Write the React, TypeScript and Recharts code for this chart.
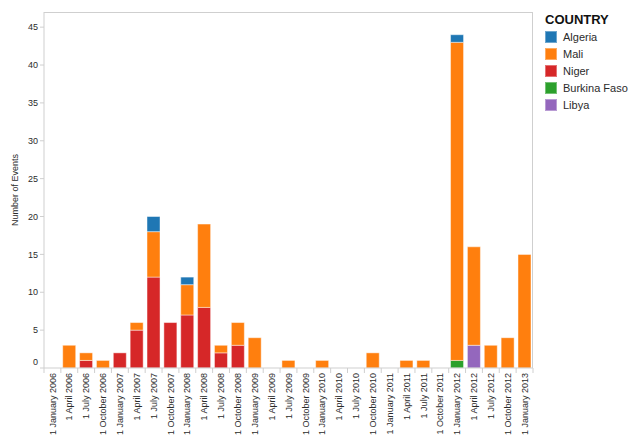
import { BarChart, Bar, XAxis, YAxis } from 'recharts';

const QUARTERS = [
  '1 January 2006', '1 April 2006', '1 July 2006', '1 October 2006',
  '1 January 2007', '1 April 2007', '1 July 2007', '1 October 2007',
  '1 January 2008', '1 April 2008', '1 July 2008', '1 October 2008',
  '1 January 2009', '1 April 2009', '1 July 2009', '1 October 2009',
  '1 January 2010', '1 April 2010', '1 July 2010', '1 October 2010',
  '1 January 2011', '1 April 2011', '1 July 2011', '1 October 2011',
  '1 January 2012', '1 April 2012', '1 July 2012', '1 October 2012',
  '1 January 2013',
];

const LIBYA = [0, 0, 0, 0, 0, 0, 0, 0, 0, 0, 0, 0, 0, 0, 0, 0, 0, 0, 0, 0, 0, 0, 0, 0, 0, 3, 0, 0, 0];
const BURKINA = [0, 0, 0, 0, 0, 0, 0, 0, 0, 0, 0, 0, 0, 0, 0, 0, 0, 0, 0, 0, 0, 0, 0, 0, 1, 0, 0, 0, 0];
const NIGER = [0, 0, 1, 0, 2, 5, 12, 6, 7, 8, 2, 3, 0, 0, 0, 0, 0, 0, 0, 0, 0, 0, 0, 0, 0, 0, 0, 0, 0];
const MALI = [0, 3, 1, 1, 0, 1, 6, 0, 4, 11, 1, 3, 4, 0, 1, 0, 1, 0, 0, 2, 0, 1, 1, 0, 42, 13, 3, 4, 15];
const ALGERIA = [0, 0, 0, 0, 0, 0, 2, 0, 1, 0, 0, 0, 0, 0, 0, 0, 0, 0, 0, 0, 0, 0, 0, 0, 1, 0, 0, 0, 0];

const Y_TICKS = [0, 5, 10, 15, 20, 25, 30, 35, 40, 45];

// legend order (top to bottom), stacking is the reverse
const LEGEND = [
  { key: 'Algeria', color: '#1f77b4' },
  { key: 'Mali', color: '#ff7f0e' },
  { key: 'Niger', color: '#d62728' },
  { key: 'Burkina Faso', color: '#2ca02c' },
  { key: 'Libya', color: '#9467bd' },
];

const data = QUARTERS.map((q, i) => ({
  quarter: q,
  Libya: LIBYA[i],
  'Burkina Faso': BURKINA[i],
  Niger: NIGER[i],
  Mali: MALI[i],
  Algeria: ALGERIA[i],
}));

const FONT = '"Liberation Sans", Arial, sans-serif';
const AXIS_GREY = '#cfcfcf';
const TEXT = '#2b2b2b';

const W = 640;
const H = 447;
const LEFT = 44;
const TOP = 12;
const RIGHT = 533;
const BOTTOM = 368;
const BAND = (RIGHT - LEFT) / QUARTERS.length;

function XTick(props: any) {
  const { x, payload, index } = props;
  const last = index === QUARTERS.length - 1;
  return (
    <g>
      <line x1={x - BAND / 2} x2={x - BAND / 2} y1={BOTTOM} y2={BOTTOM + 5} stroke={AXIS_GREY} />
      {last && <line x1={x + BAND / 2} x2={x + BAND / 2} y1={BOTTOM} y2={BOTTOM + 5} stroke={AXIS_GREY} />}
      <text
        x={x}
        y={BOTTOM + 5}
        transform={`rotate(-90 ${x} ${BOTTOM + 5})`}
        textAnchor="end"
        dy="0.35em"
        fontSize={9}
        fontFamily={FONT}
        fill={TEXT}
      >
        {payload.value}
      </text>
    </g>
  );
}

function YTick(props: any) {
  const { x, y, payload } = props;
  const nudge = payload.value === 0 ? -6 : 0;
  return (
    <text x={x} y={y + nudge} dy="0.35em" textAnchor="end" fontSize={9} fontFamily={FONT} fill={TEXT}>
      {payload.value}
    </text>
  );
}

export default function App() {
  const stack = [...LEGEND].reverse();
  return (
    <div style={{ position: 'absolute', left: 0, top: 0, width: W, height: H, fontFamily: FONT, background: '#fff' }}>
      <BarChart
        width={W}
        height={H}
        data={data}
        margin={{ top: TOP, right: W - RIGHT, bottom: 0, left: 0 }}
        barCategoryGap="11%"
      >
        <XAxis
          dataKey="quarter"
          interval={0}
          height={H - BOTTOM}
          tick={<XTick />}
          tickLine={false}
          axisLine={{ stroke: AXIS_GREY }}
        />
        <YAxis
          width={LEFT}
          domain={[0, 47]}
          ticks={Y_TICKS}
          tickSize={4}
          tickLine={{ stroke: AXIS_GREY }}
          axisLine={{ stroke: AXIS_GREY }}
          tick={<YTick />}
          label={{
            content: () => (
              <text
                x={15}
                y={(TOP + BOTTOM) / 2}
                transform={`rotate(-90 15 ${(TOP + BOTTOM) / 2})`}
                textAnchor="middle"
                dy="0.35em"
                fontSize={9}
                fontFamily={FONT}
                fill={TEXT}
              >
                Number of Events
              </text>
            ),
          }}
        />
        {stack.map((s) => (
          <Bar
            key={s.key}
            dataKey={s.key}
            stackId="a"
            fill={s.color}
            stroke="#ffffff"
            strokeOpacity={0.45}
            strokeWidth={1}
            isAnimationActive={false}
          />
        ))}
      </BarChart>

      <div
        style={{
          position: 'absolute',
          left: LEFT,
          top: TOP,
          width: RIGHT - LEFT,
          height: BOTTOM - TOP,
          borderTop: `1px solid ${AXIS_GREY}`,
          borderRight: `1px solid ${AXIS_GREY}`,
          boxSizing: 'border-box',
          pointerEvents: 'none',
        }}
      />

      <div style={{ position: 'absolute', left: 545, top: 11, color: TEXT }}>
        <div style={{ fontSize: 13, fontWeight: 'bold', color: '#111', lineHeight: '17px' }}>COUNTRY</div>
        {LEGEND.map((s) => (
          <div key={s.key} style={{ display: 'flex', alignItems: 'center', height: 17, fontSize: 11 }}>
            <span
              style={{
                display: 'inline-block',
                width: 12,
                height: 12,
                background: s.color,
                marginRight: 6,
                boxSizing: 'border-box',
                border: '1px solid rgba(255,255,255,0.35)',
              }}
            />
            <span>{s.key}</span>
          </div>
        ))}
      </div>
    </div>
  );
}
